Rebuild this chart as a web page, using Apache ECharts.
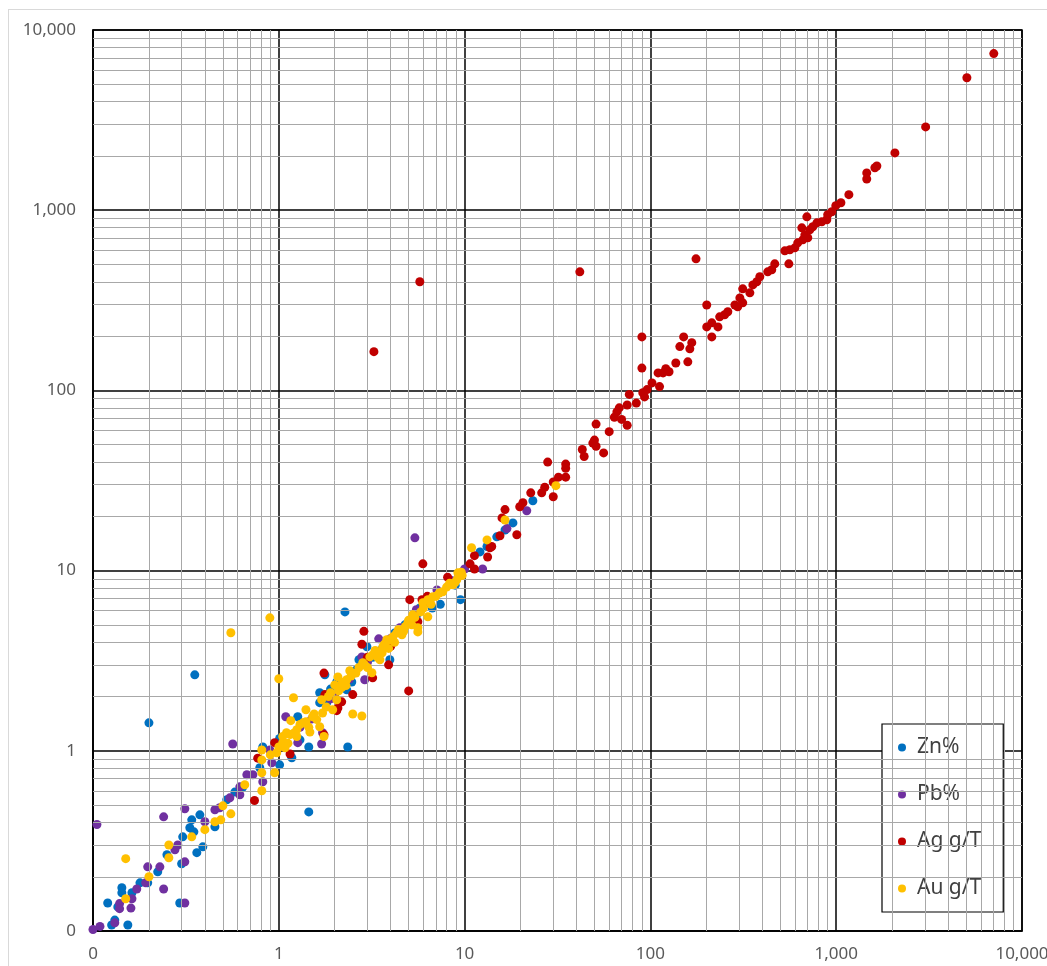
<!DOCTYPE html>
<html>
<head>
<meta charset="utf-8">
<script src="https://cdn.jsdelivr.net/npm/echarts@6/dist/echarts.min.js"></script>
<style>
  html, body { margin: 0; padding: 0; background: #fff; overflow: hidden; }
  #frame { position: absolute; left: 8px; top: 9px; width: 1100px; height: 1000px; border: 1px solid #d9d9d9; }
  #chart { position: absolute; left: 0; top: 0; width: 1047px; height: 966px; }
</style>
</head>
<body>
<div id="frame"></div>
<div id="chart"></div>
<script>
// assay pairs [x, y]
const zn = [
  [0.12, 0.143], [0.131, 0.115], [0.126, 0.108], [0.154, 0.108], [0.143, 0.174], [0.143, 0.163],
  [0.136, 0.136], [0.162, 0.163], [0.179, 0.185], [0.197, 0.185], [0.223, 0.213], [0.25, 0.265],
  [0.30, 0.236], [0.293, 0.143], [0.304, 0.333], [0.34, 0.414], [0.332, 0.374], [0.349, 0.355],
  [0.376, 0.441], [0.39, 0.293], [0.362, 0.272], [0.453, 0.379], [0.525, 0.535], [0.58, 0.59],
  [0.64, 0.63], [0.82, 1.05], [0.79, 0.805], [1.01, 0.836], [1.175, 0.915], [1.265, 1.545],
  [1.45, 1.05], [2.35, 1.05], [0.2, 1.43], [1.45, 0.458], [0.353, 2.64], [2.27, 5.9],
  [9.5, 6.9], [18.2, 18.4], [23.3, 24.4], [16.5, 16.8], [12.1, 12.7], [13.2, 13.6], [14.9, 15.4],
  [6.7, 6.2], [5.74, 6.2], [4.77, 5.0], [2.98, 3.78], [3.5, 3.59], [2.32, 2.18], [1.81, 1.85],
  [1.66, 2.1], [2.05, 2.41], [2.47, 2.41], [1.77, 2.64], [1.66, 1.85], [1.01, 1.17], [4.95, 5.13],
  [1.3, 1.15], [3.96, 3.2], [7.4, 6.5], [8.9, 8.3], [2.6, 2.8], [3.2, 3.3], [4.2, 4.5],
  [5.5, 5.6], [6.0, 6.4], [1.9, 2.2], [2.7, 3.2]
];
const pb = [
  [0.105, 0.39], [0.1, 0.102], [0.109, 0.106], [0.131, 0.111], [0.139, 0.142], [0.139, 0.133],
  [0.16, 0.134], [0.162, 0.151], [0.172, 0.171], [0.24, 0.171], [0.197, 0.227], [0.229, 0.227],
  [0.192, 0.185], [0.24, 0.43], [0.312, 0.477], [0.312, 0.143], [0.286, 0.30], [0.276, 0.282],
  [0.312, 0.242], [0.40, 0.404], [0.453, 0.471], [0.481, 0.483], [0.545, 0.548], [0.617, 0.57],
  [0.617, 0.631], [0.673, 0.736], [0.725, 0.736], [0.82, 0.673], [0.565, 1.09], [0.895, 1.01],
  [0.917, 0.858], [1.265, 1.11], [1.70, 1.09], [1.72, 1.26], [1.09, 1.545], [1.9, 1.94],
  [2.9, 2.48], [2.8, 3.32], [3.45, 4.18], [7.1, 7.8], [5.4, 15.2], [10, 10.2], [12.5, 10.2],
  [16.9, 17.1], [21.6, 21.5], [5.5, 6.06], [4.48, 4.82], [3.0, 3.1], [4.0, 4.2], [2.4, 2.5],
  [1.5, 1.5], [1.3, 1.35], [5.0, 5.2], [8.5, 8.8], [9.3, 9.5], [6.5, 6.8], [2.0, 2.0]
];
const ag = [
  [7050, 7400], [5050, 5430], [3030, 2900], [2070, 2080], [1655, 1760], [1615, 1720], [1460, 1610],
  [1460, 1490], [1170, 1220], [1060, 1100], [995, 1060], [947, 980], [900, 943], [890, 885],
  [836, 862], [787, 851], [748, 809], [695, 919], [653, 798], [721, 778], [678, 730], [703, 703],
  [661, 685], [621, 659], [599, 618], [563, 603], [529, 595], [556, 504], [467, 504], [450, 467],
  [428, 455], [388, 427], [374, 401], [356, 385], [343, 348], [314, 366], [303, 326], [314, 306],
  [295, 291], [285, 298], [261, 273], [251, 263], [236, 256], [231, 225], [214, 237], [201, 225],
  [214, 198], [201, 298], [176, 537], [167, 184], [163, 170], [144, 175], [151, 198], [159, 144],
  [137, 142], [126, 127], [121, 132], [117, 125], [110, 125], [112, 105], [102, 110], [96, 101],
  [91, 97], [93, 92], [90, 198], [90, 133], [77, 95], [84, 85], [75, 83], [68, 80], [66, 76],
  [64, 71], [70, 69], [75, 64], [51, 65], [60, 59], [50, 53], [51, 49], [49, 51], [43, 47],
  [44, 43], [56, 45], [35, 39], [35, 37], [35, 33], [28, 40], [32, 33], [30, 31], [27, 29],
  [26, 27], [22.7, 27], [30, 25.7], [20.6, 23.8], [19.8, 22.6], [16.5, 21.8], [15.9, 19.6],
  [19.1, 15.8], [15.5, 15.6], [14, 13.6], [13.7, 13.4], [13.3, 11.9], [11.3, 12.1], [10.7, 10.9],
  [11.3, 10.2], [5.96, 10.9], [8.1, 9.2], [5.07, 6.9], [5.9, 6.9], [6.3, 7.2], [5.6, 5.2],
  [2.87, 4.6], [2.8, 3.9], [3.2, 2.54], [3.9, 3.0], [5.0, 2.15], [1.75, 2.7], [1.77, 2.05],
  [2.5, 2.05], [2.18, 1.87], [2.08, 1.73], [2.05, 1.67], [1.75, 1.23], [0.95, 1.11], [1.15, 0.96],
  [0.77, 0.91], [0.74, 0.53], [3.25, 164], [5.74, 401], [41.7, 455], [3.0, 3.3], [4.0, 3.8],
  [6.0, 6.5]
];
const au = [
  [0.15, 0.252], [0.15, 0.151], [0.2, 0.2], [0.256, 0.30], [0.256, 0.255], [0.34, 0.333],
  [0.40, 0.365], [0.453, 0.404], [0.487, 0.414], [0.50, 0.495], [0.552, 0.447], [0.656, 0.648],
  [0.81, 0.60], [0.81, 0.755], [0.95, 0.755], [0.81, 0.89], [0.81, 1.01], [0.975, 0.975],
  [0.552, 4.52], [0.895, 5.47], [1.0, 2.51], [1.2, 1.97], [1.4, 1.69], [1.16, 1.47], [1.47, 1.27],
  [1.75, 1.2], [2.5, 1.6], [2.8, 1.56], [2.05, 1.92], [2.0, 2.32], [2.41, 2.78], [2.32, 2.48],
  [1.7, 1.92], [1.72, 1.62], [1.95, 1.69], [1.52, 1.545], [1.25, 1.31], [1.1, 1.26], [1.05, 1.11],
  [2.83, 3.08], [3.09, 3.32], [3.37, 3.54], [3.17, 2.71], [3.5, 3.2], [3.81, 4.13], [4.11, 4.29],
  [4.48, 4.52], [4.95, 5.13], [5.26, 5.69], [5.6, 4.82], [5.6, 4.57], [5.96, 6.63], [6.34, 6.89],
  [6.34, 5.54], [6.74, 7.16], [7.63, 7.63], [8.64, 8.34], [9.08, 8.89], [9.42, 9.48], [10.9, 13.4],
  [13.2, 14.8], [16.5, 19.1], [31, 29.6], [8.86, 8.56], [9.2, 9.72], [1.08, 1.04], [1.35, 1.43],
  [1.15, 1.23], [1.6, 1.49], [1.66, 1.36], [2.18, 2.24], [2.08, 2.57], [3.63, 3.78], [3.96, 4.13],
  [3.2, 3.4], [3.7, 3.9], [4.3, 4.5], [4.6, 4.4], [5.0, 5.3], [2.6, 2.7], [2.2, 2.4], [1.9, 2.1],
  [1.3, 1.4], [1.2, 1.25], [0.9, 0.95], [1.0, 1.05], [2.9, 3.0], [3.4, 3.3], [4.8, 4.9], [5.4, 5.5],
  [7.0, 7.2], [8.0, 8.1], [9.6, 9.8], [9.7, 9.4], [6.0, 6.2], [1.05, 1.2], [1.12, 1.1],
  [1.25, 1.2], [1.4, 1.45], [1.45, 1.35], [1.55, 1.6], [1.8, 1.75], [1.85, 2.0], [2.1, 2.15],
  [2.3, 2.3], [2.45, 2.6], [2.7, 2.9], [3.0, 2.9], [3.3, 3.6], [3.6, 3.5], [3.9, 3.7], [4.2, 4.0],
  [4.4, 4.7], [4.7, 4.6], [5.2, 5.0], [5.8, 5.9], [6.6, 6.5], [7.3, 7.5], [8.3, 8.5]
];

const seriesNames = ['Zn%', 'Pb%', 'Ag g/T', 'Au g/T'];
const seriesColors = ['#0070C0', '#7030A0', '#C00000', '#FFC000'];
// minor gridline positions (2..9 of each decade)
const minorLines = [
  0.2, 0.3, 0.4, 0.5, 0.6, 0.7, 0.8, 0.9,
  2, 3, 4, 5, 6, 7, 8, 9,
  20, 30, 40, 50, 60, 70, 80, 90,
  200, 300, 400, 500, 600, 700, 800, 900,
  2000, 3000, 4000, 5000, 6000, 7000, 8000, 9000
];

const fmt = v => (v < 1 ? '0' : Math.round(v).toLocaleString('en-US'));
const font = '"Noto Sans", "Liberation Sans", sans-serif';

const axisBase = {
  type: 'log',
  logBase: 10,
  min: 0.1,
  max: 10000,
  axisLine: { show: true, lineStyle: { color: '#000', width: 1.5 } },
  axisTick: { show: false },
  splitLine: { show: true, lineStyle: { color: '#000', width: 1.5 } },
  axisLabel: { color: '#595959', fontSize: 17, fontFamily: font, formatter: fmt }
};

const chart = echarts.init(document.getElementById('chart'), null, { renderer: 'canvas' });

const data = [zn, pb, ag, au];
const scatters = seriesNames.map((name, i) => ({
  name,
  type: 'scatter',
  data: data[i],
  symbol: 'circle',
  symbolSize: 9,
  itemStyle: { color: seriesColors[i], opacity: 1 },
  z: 3 + i
}));

chart.setOption({
  animation: false,
  backgroundColor: 'transparent',
  grid: {
    left: 93, top: 30, right: 25, bottom: 35,
    outerBoundsMode: 'none', containLabel: false,
    show: true, borderColor: '#000', borderWidth: 1.5
  },
  xAxis: { ...axisBase, axisLabel: { ...axisBase.axisLabel, margin: 15 } },
  yAxis: { ...axisBase, axisLabel: { ...axisBase.axisLabel, margin: 17 } },
  legend: {
    data: seriesNames,
    orient: 'vertical',
    left: 882,
    top: 724,
    icon: 'circle',
    itemWidth: 20,
    itemHeight: 8,
    itemGap: 26,
    padding: [13, 22, 13, 16],
    backgroundColor: '#fff',
    borderColor: '#000',
    borderWidth: 1.2,
    textStyle: { color: '#404040', fontSize: 21, fontFamily: font, lineHeight: 21 }
  },
  series: [
    {
      name: 'grid-minor',
      type: 'scatter',
      data: [],
      silent: true,
      z: 1,
      markLine: {
        silent: true,
        symbol: 'none',
        animation: false,
        label: { show: false },
        lineStyle: { color: '#a8a8a8', width: 1, type: 'solid' },
        emphasis: { disabled: true },
        data: [
          ...minorLines.map(v => ({ xAxis: v })),
          ...minorLines.map(v => ({ yAxis: v }))
        ]
      }
    },
    ...scatters
  ]
});
</script>
</body>
</html>
